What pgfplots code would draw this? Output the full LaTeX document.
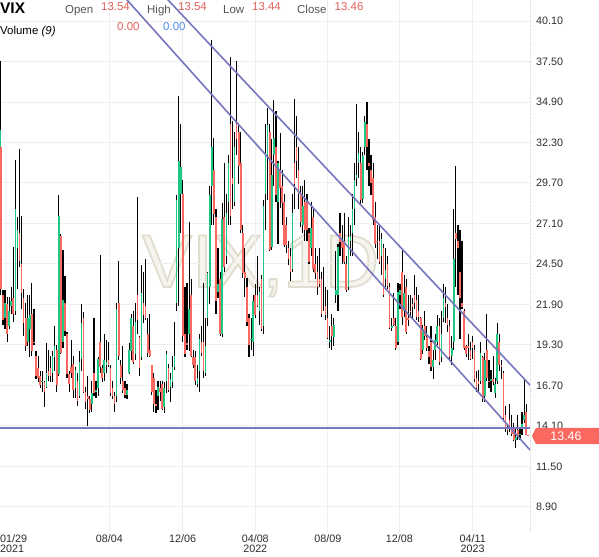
\documentclass[border=0pt]{standalone}
\usepackage{fontspec}
\setmainfont{Liberation Sans}
\usepackage{pgfplots}
\pgfplotsset{compat=1.18}
\usepackage{pgfplotstable}
\definecolor{gridc}{RGB}{238,238,238}
\definecolor{dotc}{RGB}{215,215,215}
\definecolor{tickc}{RGB}{45,45,45}
\definecolor{labc}{RGB}{85,85,85}
\definecolor{valred}{RGB}{226,96,90}
\definecolor{valblue}{RGB}{80,140,230}
\definecolor{lineblue}{RGB}{118,118,190}
\definecolor{boxred}{RGB}{250,104,95}
\definecolor{upc}{RGB}{30,200,130}
\definecolor{dnc}{RGB}{250,105,95}
\definecolor{wmfill}{RGB}{246,244,238}

\pgfplotstableread{
x o h l c
2.5 30.0 37.5 28.9 33.1
3.5 32.0 33.9 22.5 22.9
7 22.5 22.8 20.6 20.9
10.5 21.0 22.8 20.3 22.0
14 21.9 22.4 19.5 20.0
17.5 20.5 22.4 20.3 21.5
21 21.8 23.0 21.3 22.1
24.5 22.3 25.6 20.8 21.3
28 21.5 31.2 21.2 28.0
31.5 25.5 27.5 22.9 26.7
35 26.5 31.9 24.3 24.7
38.5 24.5 27.6 21.6 22.6
42 22.3 22.9 19.9 20.7
45.5 21.0 22.0 18.9 19.2
49 19.5 22.5 19.2 21.0
52.5 20.3 22.5 18.5 21.2
56 21.3 23.3 18.6 18.9
59.5 19.5 21.6 19.3 19.4
63 18.6 18.9 17.1 17.3
66.5 17.8 18.6 16.9 17.2
70 17.3 17.6 16.5 16.7
73.5 16.9 17.6 16.3 17.0
77 16.9 17.0 15.3 16.3
80.5 16.6 19.4 16.5 17.5
84 17.6 19.0 17.0 17.3
87.5 17.8 18.6 16.9 17.3
91 17.5 18.9 16.9 18.6
94.5 18.5 20.5 17.6 19.2
98 19.0 19.3 16.3 16.7
101.5 17.4 28.9 17.3 27.6
105 26.3 26.4 18.7 18.8
108.5 19.5 25.4 19.1 22.2
112 22.0 23.7 19.9 20.2
115.5 20.0 20.1 17.2 17.4
119 17.4 17.6 16.3 16.8
122.5 17.9 19.6 17.2 17.5
126 18.1 18.6 15.9 16.4
129.5 16.5 17.9 15.9 17.7
133 17.0 17.5 15.4 15.7
136.5 16.0 18.9 15.9 18.2
140 18.4 21.9 17.6 20.7
143.5 21.0 21.4 16.2 16.3
147 16.3 16.6 15.2 15.6
150.5 16.0 17.3 14.1 15.8
154 15.8 16.0 14.9 15.1
157.5 15.5 17.0 15.0 16.2
161 17.5 21.0 16.0 16.2
164.5 16.3 17.0 15.9 16.4
168 16.5 18.5 16.0 18.4
171.5 19.5 25.1 17.5 17.9
175 17.8 18.0 16.9 17.2
178.5 17.5 20.0 17.0 18.3
182 18.0 19.6 17.5 18.2
185.5 18.3 19.5 17.9 18.0
189 17.8 18.0 16.0 16.2
192.5 16.5 17.0 15.8 16.0
196 16.0 16.3 15.0 15.5
199.5 16.0 22.0 15.6 21.6
203 22.0 24.7 18.3 18.6
206.5 18.0 18.3 16.8 17.2
210 17.0 19.2 16.2 16.4
213.5 16.5 17.0 15.9 16.1
217 16.1 16.8 15.8 16.4
220.5 17.5 19.4 17.4 19.0
224 18.9 21.3 18.3 21.0
227.5 20.5 21.5 18.1 18.2
231 18.7 22.0 18.3 20.8
234.5 22.5 28.8 20.0 20.9
238 19.8 19.9 17.3 17.8
241.5 18.5 24.4 18.3 22.6
245 22.0 24.0 20.7 21.2
248.5 21.8 24.8 20.9 21.0
252 20.0 21.0 18.5 18.8
255.5 19.0 21.3 18.5 18.6
259 18.0 18.0 16.1 16.3
262.5 17.2 17.5 15.0 15.5
266 15.5 16.4 14.9 15.4
269.5 16.0 17.0 15.1 16.6
273 16.5 17.0 15.7 16.3
276.5 16.8 17.0 15.1 15.2
280 15.3 16.9 14.9 16.5
283.5 17.0 18.9 16.2 18.7
287 17.8 18.1 16.3 16.4
290.5 16.6 17.5 15.6 17.1
294 16.9 18.6 16.5 17.9
297.5 17.9 20.8 17.7 18.6
301 22.0 28.9 21.5 28.6
304.5 25.5 35.3 21.8 31.1
308 29.0 33.5 26.5 30.7
311.5 29.0 29.9 19.5 19.9
315 20.0 23.0 18.5 18.7
318.5 19.4 23.3 19.0 19.3
322 20.0 27.2 18.9 21.6
325.5 22.5 23.5 18.5 18.6
329 18.5 19.0 17.8 18.0
332.5 18.5 18.9 16.7 17.0
336 16.8 18.0 16.6 17.2
339.5 17.6 20.0 16.3 19.7
343 19.5 20.5 18.6 18.8
346.5 19.5 23.3 17.2 17.6
350 17.5 21.0 17.3 19.2
353.5 21.0 24.0 20.5 23.9
357 23.0 29.5 21.9 28.9
360.5 29.5 38.9 27.0 32.0
364 30.5 32.6 27.0 27.7
367.5 27.5 28.0 21.3 22.1
371 22.7 25.5 22.3 23.2
374.5 23.5 24.0 19.9 20.0
378 20.0 28.4 19.8 27.4
381.5 27.5 31.0 24.0 24.3
385 25.0 29.0 24.5 27.8
388.5 28.5 31.5 27.0 31.0
392 33.5 37.8 27.0 27.6
395.5 30.0 33.7 28.0 29.6
399 28.5 33.0 28.2 32.0
402.5 33.5 37.5 31.5 32.5
406 33.0 33.4 29.6 30.8
409.5 31.0 33.0 26.5 26.7
413 26.5 27.0 23.6 23.9
416.5 24.0 25.5 22.4 23.6
420 23.0 23.6 20.5 20.8
423.5 21.0 21.3 18.5 19.3
427 19.6 21.0 19.0 19.7
430.5 19.5 22.5 18.6 22.1
434 22.5 23.2 21.0 21.2
437.5 22.5 25.0 21.7 21.8
441 21.5 23.0 20.6 22.7
444.5 23.5 23.8 20.2 20.3
448 20.5 28.6 20.0 28.2
451.5 29.0 33.5 26.7 31.6
455 31.5 34.5 28.6 33.4
458.5 33.0 33.5 25.3 25.4
462 25.6 32.5 25.4 30.2
465.5 31.5 35.0 29.5 32.6
469 32.0 34.3 28.5 28.9
472.5 28.5 31.1 25.8 31.0
476 30.5 32.9 28.1 29.4
479.5 29.5 30.5 27.0 28.4
483 28.5 29.0 25.6 25.7
486.5 27.0 27.5 25.2 25.7
490 25.5 26.0 24.4 24.8
493.5 25.0 25.5 23.4 24.0
497 24.2 29.0 24.0 27.8
500.5 31.0 35.1 28.0 29.6
504 32.0 34.0 30.0 31.1
507.5 30.5 32.0 28.0 29.0
511 29.0 29.5 26.9 27.2
514.5 27.0 29.5 26.5 28.2
518 28.5 29.9 26.0 26.7
521.5 28.5 29.0 26.0 26.7
525 26.5 26.8 24.5 24.6
528.5 25.5 28.5 25.0 26.8
532 27.5 28.0 24.0 24.2
535.5 24.5 25.5 23.5 23.9
539 24.0 25.0 22.5 23.0
542.5 23.5 25.5 23.0 23.2
546 23.5 24.0 21.1 21.3
549.5 22.0 24.3 21.5 22.0
553 21.8 23.0 20.9 21.2
556.5 21.0 22.8 19.7 19.75
560 19.5 20.5 19.1 19.6
563.5 20.5 21.3 19.0 19.9
567 19.8 21.0 19.2 20.6
570.5 22.5 25.3 22.0 22.8
574 22.5 25.8 21.5 25.6
577.5 26.5 27.8 25.0 25.9
581 26.0 27.0 24.5 25.5
584.5 26.0 27.8 24.5 24.6
588 24.5 25.0 22.7 22.8
591.5 23.0 27.5 22.8 26.2
595 26.0 27.0 25.0 26.3
598.5 26.5 29.0 25.0 28.0
602 28.0 31.0 27.0 29.9
605.5 30.0 34.8 29.5 30.2
609 31.0 33.0 30.0 31.6
612.5 31.0 32.0 28.3 28.6
616 28.7 31.7 28.4 31.4
619.5 32.0 34.0 31.5 33.6
623 33.5 34.9 30.5 32.0
626.5 31.0 32.5 29.5 30.8
630 30.5 31.5 28.9 29.7
633.5 30.0 31.0 27.0 27.3
637 27.5 28.5 25.5 25.8
640.5 26.0 27.0 24.8 25.9
644 26.0 27.0 24.5 24.6
647.5 25.0 26.5 23.8 26.1
651 25.5 25.8 22.4 22.5
654.5 23.5 25.5 23.0 24.1
658 24.5 25.0 22.9 23.1
661.5 23.0 23.3 20.3 20.4
665 20.4 21.0 20.2 20.5
668.5 21.0 22.6 20.5 20.6
672 20.5 21.0 19.0 19.1
675.5 19.5 23.3 19.3 22.7
679 22.5 23.2 21.6 22.8
682.5 24.0 25.4 20.6 21.1
686 21.5 23.8 21.1 22.6
689.5 23.0 23.5 20.0 20.1
693 21.0 22.5 20.5 20.9
696.5 21.5 22.5 21.0 21.4
700 21.9 22.3 21.0 21.7
703.5 22.5 23.8 21.6 22.0
707 22.2 23.0 20.9 21.1
710.5 21.5 22.5 20.8 21.1
714 21.0 21.1 18.3 18.4
717.5 19.0 20.6 18.7 20.3
721 20.5 21.5 19.6 19.9
724.5 19.8 20.5 18.9 19.1
728 18.9 19.2 18.1 18.5
731.5 19.5 20.5 17.6 17.9
735 17.9 19.0 17.1 18.3
738.5 19.0 20.0 18.3 19.6
742 19.5 21.2 19.3 20.5
745.5 20.5 21.0 18.0 18.2
749 18.5 21.5 18.2 20.0
752.5 21.0 23.2 20.8 22.3
756 22.0 23.0 20.7 21.7
759.5 21.0 21.9 20.1 20.6
763 20.5 20.9 18.4 18.5
766.5 18.6 19.9 18.0 19.1
770 19.5 28.0 19.0 24.8
773.5 26.5 30.8 23.0 26.1
777 26.0 27.0 22.5 25.5
780.5 24.0 26.7 19.7 22.3
784 22.0 26.0 21.6 21.7
787.5 21.5 21.6 19.0 19.1
791 19.2 19.3 18.5 18.7
794.5 19.2 20.0 18.3 19.1
798 19.0 19.5 18.3 18.4
801.5 19.5 19.9 18.4 19.1
805 19.0 19.3 16.9 17.1
808.5 17.2 17.6 16.3 16.5
812 17.0 17.7 16.3 16.8
815.5 17.0 19.5 16.8 18.8
819 18.5 18.6 15.6 15.8
822.5 16.0 18.8 15.6 18.3
826 19.0 21.3 17.0 17.2
829.5 17.0 18.3 16.5 16.9
833 17.0 17.7 16.3 17.1
836.5 17.1 18.6 16.7 16.9
840 16.2 17.2 15.9 16.8
843.5 17.0 20.7 16.8 20.0
847 19.5 20.0 17.6 18.0
850.5 18.0 18.3 17.1 17.9
854 17.5 17.6 14.5 14.6
857.5 14.8 15.4 13.7 13.9
861 14.0 14.2 13.5 13.8
864.5 14.5 15.5 13.7 13.9
868 13.9 14.8 13.45 13.55
871.5 14.0 14.3 13.1 13.2
875 13.2 13.9 12.7 13.4
878.5 13.8 14.8 13.2 13.4
882 13.5 14.0 13.2 13.6
885.5 14.0 15.0 13.5 14.2
889 14.5 17.1 14.3 14.8
892.5 15.0 15.5 13.5 13.54
896 13.54 13.54 13.44 13.46
}\candles

\begin{document}
\begin{tikzpicture}[x=1bp,y=1bp]
\path[use as bounding box] (0,0) rectangle (599,-557);
% watermark (filled, outlined through the text render mode)
\node[anchor=base west, inner sep=0pt, text=wmfill, font=\fontsize{75}{75}\selectfont] at (142,-287)
  {\special{pdf:literal direct 2 Tr 1.8 w 0.88 0.865 0.81 RG}VIX,1D\special{pdf:literal direct 0 Tr}};
\begin{axis}[
  at={(0,0)}, anchor=north west,
  scale only axis, width=530bp, height=532bp,
  xmin=2, xmax=899, ymin=7.28, ymax=41.45,
  clip mode=individual,
  axis line style={draw=none},
  tick style={draw=none},
  grid=major,
  grid style={draw=gridc, line width=0.9bp},
  xtick={187,311,434,557,678,802},
  xticklabels={08/04,12/06,{04/08\\2022},08/09,12/08,{04/11\\2023}},
  x tick label style={font=\fontsize{10.8}{11}\selectfont, text=tickc, align=center, anchor=north, inner sep=0pt, yshift=-2bp},
  ytick={8.9,11.5,14.1,16.7,19.3,21.9,24.5,27.1,29.7,32.3,34.9,37.5,40.1},
  yticklabel pos=right,
  y tick label style={font=\fontsize{10.8}{12}\selectfont, text=tickc, anchor=west, inner sep=0pt, xshift=6bp},
  /pgf/number format/fixed,
  /pgf/number format/fixed zerofill,
  /pgf/number format/precision=2,
  /pgf/number format/assume math mode=true,
]
\draw[dotc, densely dotted, line width=0.8bp] (rel axis cs:1,0) -- (rel axis cs:1,1);
% wicks
\addplot[draw=none, mark=none, forget plot,
  error bars/.cd, y dir=minus, y explicit, error mark=none,
  error bar style={draw=black, line width=1.15bp}]
  table[x=x, y=h, y error minus expr=\thisrow{h}-\thisrow{l}] {\candles};
% up bodies
\addplot[draw=none, mark=none, forget plot,
  restrict expr to domain={\thisrow{c}-\thisrow{o}}{0:1000},
  error bars/.cd, y dir=minus, y explicit, error mark=none,
  error bar style={draw=upc, line width=1.6bp}]
  table[x=x, y=c, y error minus expr=\thisrow{c}-\thisrow{o}] {\candles};
% down bodies
\addplot[draw=none, mark=none, forget plot,
  restrict expr to domain={\thisrow{o}-\thisrow{c}}{0.0001:1000},
  error bars/.cd, y dir=minus, y explicit, error mark=none,
  error bar style={draw=dnc, line width=1.6bp}]
  table[x=x, y=o, y error minus expr=\thisrow{o}-\thisrow{c}] {\candles};
% trend lines
\addplot[lineblue, line width=1.6bp, forget plot] coordinates {(150,44.29) (899,12.55)};
\addplot[lineblue, line width=1.6bp, forget plot] coordinates {(250,42.92) (899,16.72)};
\addplot[lineblue, line width=1.6bp, forget plot] coordinates {(2,13.95) (899,13.95)};
\end{axis}
% first date label
\node[anchor=north west, align=left, inner sep=0pt, text=tickc, font=\fontsize{10.8}{11}\selectfont] at (0,-534) {01/29\\2021};
% last price box
\fill[boxred] (532,-436) -- (536,-427.8) -- (599,-427.8) -- (599,-444.2) -- (536,-444.2) -- cycle;
\node[text=white, inner sep=0pt, font=\fontsize{12.5}{12.5}\selectfont] at (566,-436) {13.46};
% header
\node[anchor=base west, inner sep=0pt, font=\fontsize{15.5}{15.5}\selectfont\bfseries] at (0,-13.3) {VIX};
\begin{scope}[every node/.style={anchor=base west, inner sep=0pt, font=\fontsize{11.5}{11.5}\selectfont}]
\node[text=labc] at (65,-13.1) {Open};
\node[text=valred] at (101,-10.1) {13.54};
\node[text=labc] at (147,-13.1) {High};
\node[text=valred] at (178,-10.1) {13.54};
\node[text=labc] at (223,-13.1) {Low};
\node[text=valred] at (252,-10.1) {13.44};
\node[text=labc] at (297,-13.1) {Close};
\node[text=valred] at (334.5,-10.1) {13.46};
\node[text=black] at (0,-34.1) {Volume \textit{(9)}};
\node[text=valred] at (117,-30.1) {0.00};
\node[text=valblue] at (163,-30.1) {0.00};
\end{scope}
\end{tikzpicture}
\end{document}
